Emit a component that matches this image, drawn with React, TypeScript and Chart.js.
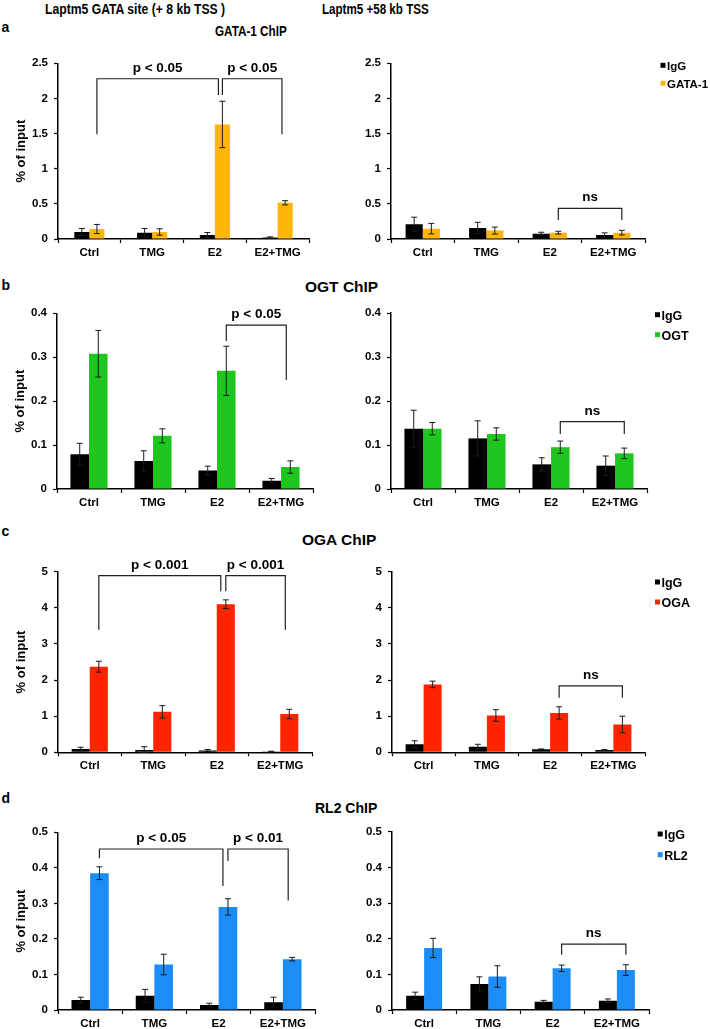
import React, { useEffect, useRef } from "react";
import { Chart, registerables } from "chart.js";
Chart.register(...registerables);

const FONT = "'Liberation Sans', Arial, Helvetica, sans-serif";

// ---------- data ----------
const categories = ["Ctrl", "TMG", "E2", "E2+TMG"];
const controlName = "IgG";

// a: GATA-1 ChIP
const gataTicks = [0, 0.5, 1, 1.5, 2, 2.5];
const gataTickLabels = ["0", "0.5", "1", "1.5", "2", "2.5"];
const gata8IgG = [0.10, 0.09, 0.057, 0.02];
const gata8IgGErr = [0.05, 0.06, 0.035, 0.01];
const gata8Ab = [0.142, 0.10, 1.63, 0.515];
const gata8AbErr = [0.065, 0.045, 0.33, 0.03];
const gata8Brackets = [
  { from: 0, to: 2, top: 2.28, yFrom: 1.49, yTo: 2.05, label: "p < 0.05" },
  { from: 2, to: 3, top: 2.28, yFrom: 2.05, yTo: 1.49, label: "p < 0.05" },
];
const gata58IgG = [0.21, 0.157, 0.076, 0.057];
const gata58IgGErr = [0.10, 0.08, 0.02, 0.03];
const gata58Ab = [0.147, 0.12, 0.09, 0.09];
const gata58AbErr = [0.075, 0.05, 0.02, 0.033];
const gata58Brackets = [{ from: 2, to: 3, top: 0.436, yFrom: 0.27, yTo: 0.27, label: "ns" }];

// b: OGT ChIP
const ogtTicks = [0, 0.1, 0.2, 0.3, 0.4];
const ogtTickLabels = ["0", "0.1", "0.2", "0.3", "0.4"];
const ogt8IgG = [0.079, 0.064, 0.042, 0.019];
const ogt8IgGErr = [0.025, 0.023, 0.01, 0.005];
const ogt8Ab = [0.308, 0.121, 0.269, 0.05];
const ogt8AbErr = [0.053, 0.016, 0.056, 0.014];
const ogt8Brackets = [{ from: 2, to: 3, top: 0.373, yFrom: 0.337, yTo: 0.248, label: "p < 0.05" }];
const ogt58IgG = [0.137, 0.115, 0.056, 0.053];
const ogt58IgGErr = [0.042, 0.04, 0.015, 0.022];
const ogt58Ab = [0.137, 0.125, 0.095, 0.081];
const ogt58AbErr = [0.014, 0.014, 0.014, 0.012];
const ogt58Brackets = [{ from: 2, to: 3, top: 0.153, yFrom: 0.125, yTo: 0.125, label: "ns" }];

// c: OGA ChIP
const ogaTicks = [0, 1, 2, 3, 4, 5];
const ogaTickLabels = ["0", "1", "2", "3", "4", "5"];
const oga8IgG = [0.09, 0.065, 0.05, 0.02];
const oga8IgGErr = [0.05, 0.09, 0.03, 0.01];
const oga8Ab = [2.37, 1.12, 4.1, 1.06];
const oga8AbErr = [0.15, 0.17, 0.12, 0.13];
const oga8Brackets = [
  { from: 0, to: 2, top: 4.89, yFrom: 3.39, yTo: 4.46, label: "p < 0.001" },
  { from: 2, to: 3, top: 4.89, yFrom: 4.46, yTo: 3.39, label: "p < 0.001" },
];
const oga58IgG = [0.22, 0.157, 0.083, 0.065];
const oga58IgGErr = [0.1, 0.065, 0.01, 0.01];
const oga58Ab = [1.88, 1.02, 1.09, 0.77];
const oga58AbErr = [0.09, 0.16, 0.17, 0.23];
const oga58Brackets = [{ from: 2, to: 3, top: 1.84, yFrom: 1.51, yTo: 1.51, label: "ns" }];

// d: RL2 ChIP
const rl2Ticks = [0, 0.1, 0.2, 0.3, 0.4, 0.5];
const rl2TickLabels = ["0", "0.1", "0.2", "0.3", "0.4", "0.5"];
const rl28IgG = [0.028, 0.04, 0.014, 0.022];
const rl28IgGErr = [0.008, 0.018, 0.005, 0.014];
const rl28Ab = [0.385, 0.128, 0.29, 0.143];
const rl28AbErr = [0.018, 0.029, 0.023, 0.005];
const rl28Brackets = [
  { from: 0, to: 2, top: 0.453, yFrom: 0.427, yTo: 0.349, label: "p < 0.05" },
  { from: 2, to: 3, top: 0.453, yFrom: 0.419, yTo: 0.308, label: "p < 0.01" },
];
const rl258IgG = [0.04, 0.073, 0.023, 0.026];
const rl258IgGErr = [0.01, 0.02, 0.004, 0.005];
const rl258Ab = [0.174, 0.094, 0.117, 0.112];
const rl258AbErr = [0.027, 0.03, 0.009, 0.015];
const rl258Brackets = [{ from: 2, to: 3, top: 0.185, yFrom: 0.155, yTo: 0.155, label: "ns" }];

const GOLD = "#FFB50A";
const GREEN = "#1FC61F";
const RED = "#FF2400";
const BLUE = "#1C8CF6";

const panels = [
  { id: "aL", igg: gata8IgG, iggErr: gata8IgGErr, ab: gata8Ab, abErr: gata8AbErr, abName: "GATA-1", color: GOLD, ticks: gataTicks, tickLabels: gataTickLabels, brackets: gata8Brackets },
  { id: "aR", igg: gata58IgG, iggErr: gata58IgGErr, ab: gata58Ab, abErr: gata58AbErr, abName: "GATA-1", color: GOLD, ticks: gataTicks, tickLabels: gataTickLabels, brackets: gata58Brackets },
  { id: "bL", igg: ogt8IgG, iggErr: ogt8IgGErr, ab: ogt8Ab, abErr: ogt8AbErr, abName: "OGT", color: GREEN, ticks: ogtTicks, tickLabels: ogtTickLabels, brackets: ogt8Brackets },
  { id: "bR", igg: ogt58IgG, iggErr: ogt58IgGErr, ab: ogt58Ab, abErr: ogt58AbErr, abName: "OGT", color: GREEN, ticks: ogtTicks, tickLabels: ogtTickLabels, brackets: ogt58Brackets },
  { id: "cL", igg: oga8IgG, iggErr: oga8IgGErr, ab: oga8Ab, abErr: oga8AbErr, abName: "OGA", color: RED, ticks: ogaTicks, tickLabels: ogaTickLabels, brackets: oga8Brackets },
  { id: "cR", igg: oga58IgG, iggErr: oga58IgGErr, ab: oga58Ab, abErr: oga58AbErr, abName: "OGA", color: RED, ticks: ogaTicks, tickLabels: ogaTickLabels, brackets: oga58Brackets },
  { id: "dL", igg: rl28IgG, iggErr: rl28IgGErr, ab: rl28Ab, abErr: rl28AbErr, abName: "RL2", color: BLUE, ticks: rl2Ticks, tickLabels: rl2TickLabels, brackets: rl28Brackets },
  { id: "dR", igg: rl258IgG, iggErr: rl258IgGErr, ab: rl258Ab, abErr: rl258AbErr, abName: "RL2", color: BLUE, ticks: rl2Ticks, tickLabels: rl2TickLabels, brackets: rl258Brackets },
];

// headings: text, left edge, baseline, font size, horizontal compression
const headings = [
  { text: "Laptm5 GATA site (+ 8 kb TSS )", left: 45, baseline: 14, size: 14.5, sx: 0.84 },
  { text: "Laptm5 +58 kb TSS", left: 322, baseline: 14, size: 14.5, sx: 0.8 },
  { text: "a", left: 1.5, baseline: 31.5, size: 14, sx: 1 },
  { text: "GATA-1 ChIP", left: 215, baseline: 36, size: 15, sx: 0.78 },
  { text: "b", left: 1.5, baseline: 290, size: 14, sx: 1 },
  { text: "OGT ChIP", left: 305, baseline: 292.3, size: 15.5, sx: 1 },
  { text: "c", left: 1.5, baseline: 535.7, size: 14, sx: 1 },
  { text: "OGA ChIP", left: 302, baseline: 545, size: 15.5, sx: 1 },
  { text: "d", left: 1.5, baseline: 803.3, size: 14, sx: 1 },
  { text: "RL2 ChIP", left: 315, baseline: 813.3, size: 14, sx: 1 },
];

// ---------- layout ----------
const YW = 50;
const XH = 18;
const layouts: Record<string, any> = {
  aL: { col: 0, top: 40, h: 240, area: [58, 63.3, 309, 239], cat: 0.48, yTitle: true, shift: 4 },
  aR: { col: 1, top: 40, h: 240, area: [391, 63.3, 645, 239], cat: 0.54, legend: { dx: 15.5, dy: 4, gap: 18, size: 11.5 }, shift: 0 },
  bL: { col: 0, top: 295, h: 220, area: [57, 313.3, 313, 489], cat: 0.58, yTitle: true, shift: 5 },
  bR: { col: 1, top: 295, h: 220, area: [391, 313, 647, 489], cat: 0.58, legend: { dx: 8, dy: 3.7, gap: 20, size: 12.5 }, shift: 0 },
  cL: { col: 0, top: 550, h: 230, area: [58, 571.7, 312, 752.3], cat: 0.57, yTitle: true, shift: 5 },
  cR: { col: 1, top: 550, h: 230, area: [392, 571.7, 645, 752.3], cat: 0.57, legend: { dx: 10, dy: 12.3, gap: 20, size: 12.5 }, shift: 0 },
  dL: { col: 0, top: 810, h: 219, area: [58, 832.3, 315, 1010], cat: 0.58, yTitle: true, shift: 5 },
  dR: { col: 1, top: 810, h: 219, area: [392, 831.7, 649, 1010], cat: 0.56, legend: { dx: 8.7, dy: 4.3, gap: 20.7, size: 12.5 }, shift: 0 },
};
const COLS = [
  { x: 0, w: 340 },
  { x: 340, w: 370 },
];

function overlayPlugin(p: any, lay: any) {
  return {
    id: "overlay_" + p.id,
    afterDatasetsDraw(chart: any) {
      const ctx = chart.ctx;
      const ys = chart.scales.y;
      ctx.save();
      [
        [p.igg, p.iggErr],
        [p.ab, p.abErr],
      ].forEach(([vals, errs]: any, di: number) => {
        const meta = chart.getDatasetMeta(di);
        meta.data.forEach((el: any, i: number) => {
          const x = el.x;
          const hi = ys.getPixelForValue(vals[i] + errs[i]);
          const lo = ys.getPixelForValue(Math.max(0, vals[i] - errs[i]));
          ctx.strokeStyle = "#1a1a1a";
          ctx.lineWidth = 1;
          ctx.beginPath();
          ctx.moveTo(x, hi);
          ctx.lineTo(x, lo);
          ctx.moveTo(x - 3, hi);
          ctx.lineTo(x + 3, hi);
          ctx.moveTo(x - 3, lo);
          ctx.lineTo(x + 3, lo);
          ctx.stroke();
        });
      });
      const abMeta = chart.getDatasetMeta(1);
      p.brackets.forEach((b: any) => {
        const x1 = abMeta.data[b.from].x;
        let x2 = abMeta.data[b.to].x;
        if (p.brackets.some((o: any) => o !== b && o.from === b.to)) x2 -= lay.shift;
        else x2 -= lay.shift * 0.8;
        const yT = ys.getPixelForValue(b.top);
        const y1 = ys.getPixelForValue(b.yFrom);
        const y2 = ys.getPixelForValue(b.yTo);
        ctx.strokeStyle = "#222";
        ctx.lineWidth = 1.2;
        ctx.beginPath();
        ctx.moveTo(x1, y1);
        ctx.lineTo(x1, yT);
        ctx.lineTo(x2, yT);
        ctx.lineTo(x2, y2);
        ctx.stroke();
        ctx.fillStyle = "#000";
        ctx.font = `bold 13.5px ${FONT}`;
        ctx.textAlign = "center";
        ctx.textBaseline = "alphabetic";
        ctx.fillText(b.label, (x1 + x2) / 2, yT - 7);
      });
      if (lay.legend) {
        const ca = chart.chartArea;
        const items = [
          [controlName, "#000"],
          [p.abName, p.color],
        ];
        items.forEach(([name, col]: any, i: number) => {
          const cy = ca.top + lay.legend.dy + i * lay.legend.gap;
          const sx = ca.right + lay.legend.dx;
          ctx.fillStyle = col;
          ctx.fillRect(sx, cy - 4.5, 5, 5);
          ctx.fillStyle = "#000";
          ctx.font = `bold ${lay.legend.size}px ${FONT}`;
          ctx.textAlign = "left";
          ctx.textBaseline = "middle";
          ctx.fillText(name, sx + 6.5, cy);
        });
      }
      ctx.restore();
    },
  };
}

function BarPanel({ p }: { p: any }) {
  const ref = useRef<HTMLCanvasElement>(null);
  const lay = layouts[p.id];
  const col = COLS[lay.col];
  useEffect(() => {
    const [L, T, R, B] = lay.area;
    const tickFont = { family: FONT, size: 11.5, weight: "bold" as const };
    const chart = new Chart(ref.current!, {
      type: "bar",
      data: {
        labels: categories,
        datasets: [
          { label: controlName, data: p.igg, backgroundColor: "#000", borderWidth: 0, barPercentage: 1, categoryPercentage: lay.cat },
          { label: p.abName, data: p.ab, backgroundColor: p.color, borderWidth: 0, barPercentage: 1, categoryPercentage: lay.cat },
        ],
      },
      options: {
        responsive: false,
        animation: false,
        events: [],
        layout: {
          padding: {
            left: L - col.x - YW,
            top: T - lay.top,
            right: col.x + col.w - R,
            bottom: lay.top + lay.h - B - XH,
          },
        },
        plugins: { legend: { display: false }, tooltip: { enabled: false }, title: { display: false } },
        scales: {
          x: {
            type: "category",
            offset: true,
            grid: { display: true, drawOnChartArea: false, drawTicks: true, tickLength: 4, tickColor: "#000", tickWidth: 1.2, offset: true },
            border: { display: true, color: "#000", width: 1.5 },
            ticks: { color: "#000", font: tickFont, padding: 3, maxRotation: 0, autoSkip: false },
            afterFit: (s: any) => {
              s.height = XH;
            },
          },
          y: {
            min: p.ticks[0],
            max: p.ticks[p.ticks.length - 1],
            afterBuildTicks: (s: any) => {
              s.ticks = p.ticks.map((v: number) => ({ value: v }));
            },
            grid: { display: true, drawOnChartArea: false, drawTicks: true, tickLength: 4, tickColor: "#000", tickWidth: 1.2 },
            border: { display: true, color: "#000", width: 1.5 },
            ticks: { color: "#000", font: tickFont, padding: 6, callback: (_v: any, i: number) => p.tickLabels[i] },
            title: {
              display: !!lay.yTitle,
              text: "% of input",
              color: "#000",
              font: { family: FONT, size: 13, weight: "bold" },
              padding: { top: 6, bottom: 0 },
            },
            afterFit: (s: any) => {
              s.width = YW;
            },
          },
        },
      } as any,
      plugins: [overlayPlugin(p, lay)],
    });
    return () => chart.destroy();
  }, []);
  return (
    <canvas
      ref={ref}
      width={col.w}
      height={lay.h}
      style={{ position: "absolute", left: col.x, top: lay.top, width: col.w, height: lay.h }}
    />
  );
}

function Headings() {
  return (
    <>
      {headings.map((h, i) => (
        <div
          key={i}
          style={{
            position: "absolute",
            left: 0,
            top: h.baseline - 0.8465 * h.size,
            width: 710,
            height: h.size,
            fontFamily: FONT,
            fontWeight: 700,
            fontSize: h.size,
            lineHeight: 1,
            whiteSpace: "nowrap",
            color: "#000",
            textAlign: "left",
          }}
        >
          <span
            style={{
              position: "absolute",
              left: h.left,
              top: 0,
              display: "inline-block",
              transform: `scaleX(${h.sx})`,
              transformOrigin: "0 50%",
            }}
          >
            {h.text}
          </span>
        </div>
      ))}
    </>
  );
}

export default function App() {
  return (
    <div style={{ position: "fixed", left: 0, top: 0, width: 710, height: 1029, background: "#fff", overflow: "hidden" }}>
      <Headings />
      {panels.map((p) => (
        <BarPanel key={p.id} p={p} />
      ))}
    </div>
  );
}
